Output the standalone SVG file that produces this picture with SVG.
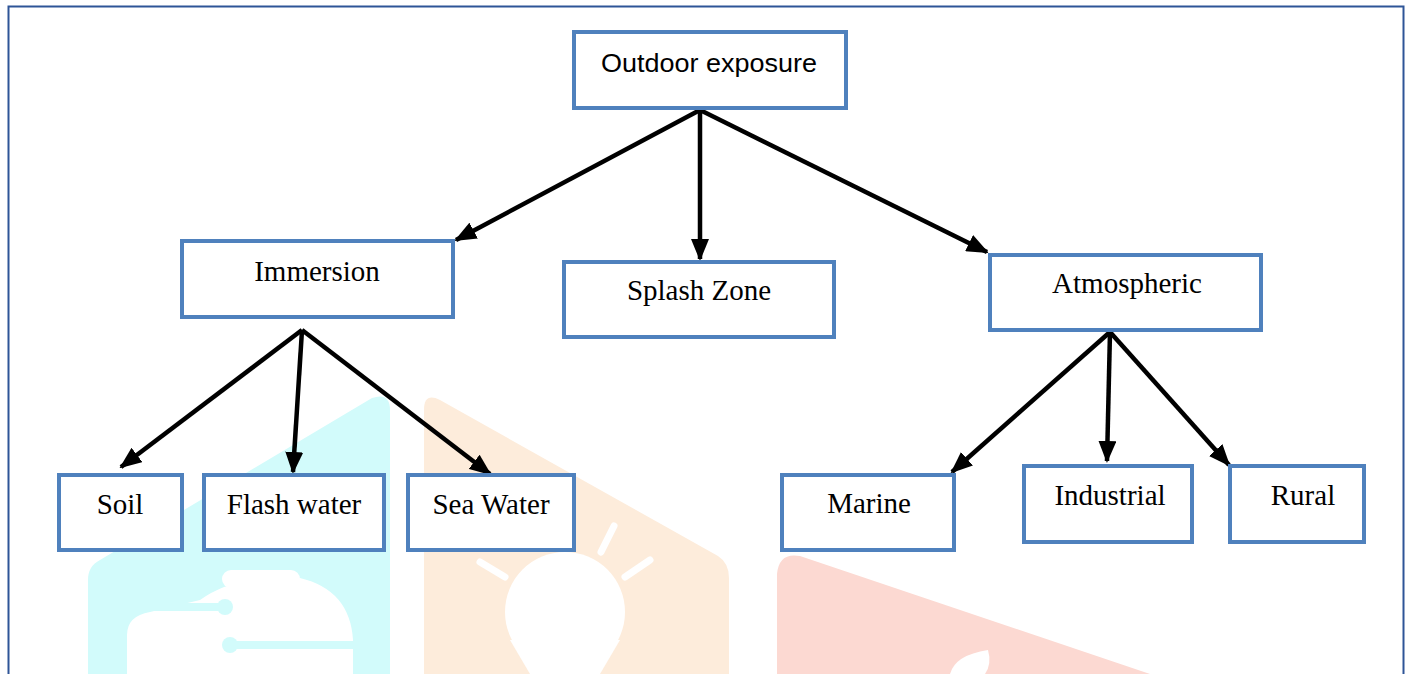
<svg xmlns="http://www.w3.org/2000/svg" width="1408" height="674" viewBox="0 0 1408 674">
<style>
.box{fill:#ffffff;stroke:#4f81bd;stroke-width:4}
.t{font-family:"Liberation Serif","Times New Roman",serif;font-size:29px;fill:#000;text-anchor:middle}
.s{font-family:"Liberation Sans",Arial,sans-serif;font-size:25px;fill:#000;text-anchor:middle}
.c{stroke:#000;stroke-width:4.5;fill:none;marker-end:url(#ah)}
.ray{stroke:#ffffff;stroke-width:7;stroke-linecap:round}
</style>
<defs>
<marker id="ah" markerUnits="userSpaceOnUse" markerWidth="22" markerHeight="18" refX="20" refY="9" orient="auto">
<path d="M0,0 L22,9 L0,18 Z" fill="#000"/>
</marker>
</defs>
<rect x="0" y="0" width="1408" height="674" fill="#ffffff"/>
<g id="watermark">
<path d="M372,398 Q390,392 390,410 L390,674 L88,674 L88,580 Q88,566 100,560 Z" fill="#d2fbfb"/>
<path d="M424,410 Q424,392 440,400 L718,556 Q729,563 729,578 L729,674 L424,674 Z" fill="#fdecdb"/>
<path d="M777,574 Q779,552 800,556 L1150,674 L777,674 Z" fill="#fcd9d2"/>
<g fill="#ffffff">
<path d="M127,674 L127,635 Q127,616 150,612 L200,600 Q235,574 300,578 Q350,590 353,640 L353,674 Z"/>
<rect x="222" y="570" width="78" height="18" rx="9"/>
<circle cx="565" cy="612" r="60"/>
<path d="M510,640 L620,640 L600,674 L530,674 Z"/>
<path d="M950,674 Q955,655 988,650 Q992,664 985,674 Z"/>
</g>
<g fill="#d2fbfb">
<rect x="127" y="603" width="98" height="8"/>
<circle cx="225" cy="607" r="8"/>
<rect x="228" y="641" width="125" height="8"/>
<circle cx="230" cy="645" r="8"/>
</g>
<line class="ray" x1="480" y1="562" x2="505" y2="577"/>
<line class="ray" x1="614" y1="526" x2="601" y2="552"/>
<line class="ray" x1="650" y1="560" x2="625" y2="577"/>
</g>
<rect x="8.5" y="6.5" width="1395" height="680" fill="none" stroke="#2e5597" stroke-width="2"/>
<g id="connectors">
<line class="c" x1="700" y1="110" x2="456" y2="240"/>
<line class="c" x1="700" y1="110" x2="700" y2="259"/>
<line class="c" x1="700" y1="110" x2="987" y2="252"/>
<line class="c" x1="302" y1="330" x2="121" y2="467"/>
<line class="c" x1="302" y1="330" x2="293" y2="472"/>
<line class="c" x1="302" y1="330" x2="490" y2="474"/>
<line class="c" x1="1110" y1="332" x2="952" y2="472"/>
<line class="c" x1="1110" y1="332" x2="1107" y2="461"/>
<line class="c" x1="1110" y1="332" x2="1229" y2="465"/>
</g>
<g id="n-outdoor"><rect class="box" x="574" y="32" width="272" height="76"/><text class="s" x="709" y="72" textLength="216" lengthAdjust="spacingAndGlyphs">Outdoor exposure</text></g>
<g id="n-immersion"><rect class="box" x="182" y="241" width="271" height="76"/><text class="t" x="317" y="281">Immersion</text></g>
<g id="n-splash"><rect class="box" x="564" y="262" width="270" height="75"/><text class="t" x="699" y="300">Splash Zone</text></g>
<g id="n-atmospheric"><rect class="box" x="990" y="255" width="271" height="75"/><text class="t" x="1127" y="293">Atmospheric</text></g>
<g id="n-soil"><rect class="box" x="59" y="475" width="123" height="75"/><text class="t" x="120" y="514">Soil</text></g>
<g id="n-flash"><rect class="box" x="204" y="475" width="180" height="75"/><text class="t" x="294" y="514">Flash water</text></g>
<g id="n-sea"><rect class="box" x="408" y="475" width="166" height="75"/><text class="t" x="491" y="514">Sea Water</text></g>
<g id="n-marine"><rect class="box" x="782" y="475" width="172" height="75"/><text class="t" x="869" y="513">Marine</text></g>
<g id="n-industrial"><rect class="box" x="1024" y="466" width="168" height="76"/><text class="t" x="1110" y="505">Industrial</text></g>
<g id="n-rural"><rect class="box" x="1230" y="466" width="134" height="76"/><text class="t" x="1303" y="505">Rural</text></g>
</svg>
